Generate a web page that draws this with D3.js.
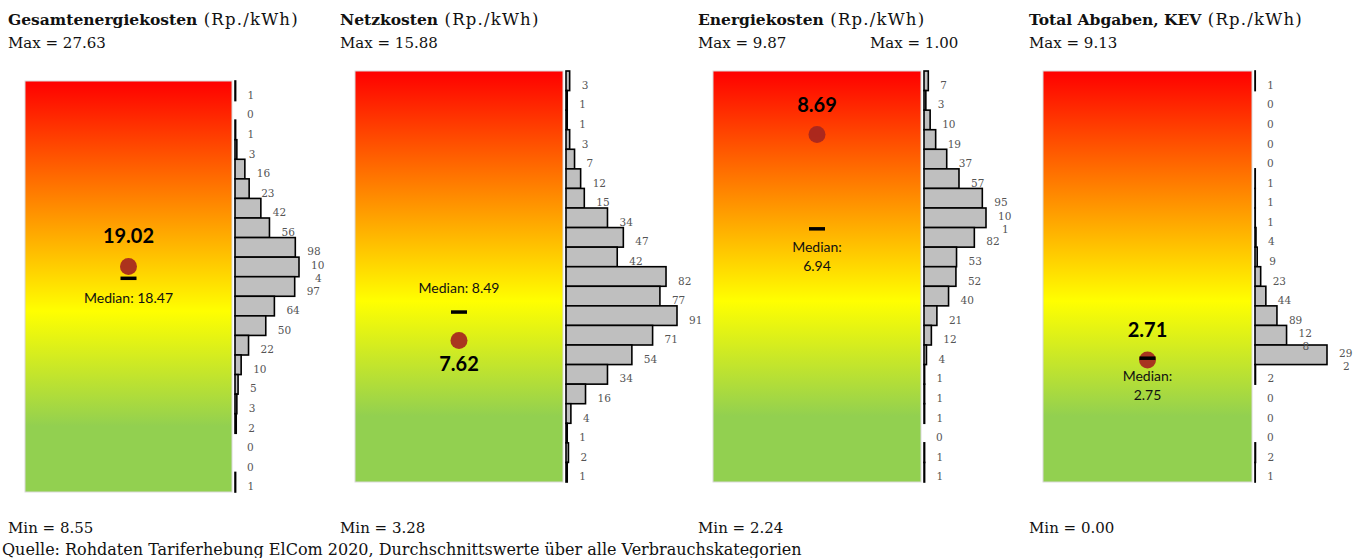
<!DOCTYPE html>
<html>
<head>
<meta charset="utf-8">
<script src="https://cdn.jsdelivr.net/npm/d3@7"></script>
<style>
  body { margin: 0; background: #fff; }
  svg { display: block; }
  .ttl { font-family: "DejaVu Serif", serif; font-size: 15px; fill: #111; }
  .src { font-family: "DejaVu Serif", serif; font-size: 16px; fill: #111; }
  .lbl { font-family: "DejaVu Serif", serif; font-size: 10.5px; fill: #555; }
  .val { font-family: Lato, "Open Sans", sans-serif; font-weight: bold; font-size: 20px; fill: #000; }
  .med { font-family: Lato, "Open Sans", sans-serif; font-size: 14px; fill: #111; }
</style>
</head>
<body>
<svg id="chart" width="1360" height="558"></svg>
<script>
// panel titles and ranges
var titles = ["Gesamtenergiekosten", "Netzkosten", "Energiekosten", "Total Abgaben, KEV"];
var unit = "(Rp./kWh)";
var maxVals = [27.63, 15.88, 9.87, 9.13];
var minVals = [8.55, 3.28, 2.24, 0.00];
var avgVals = [19.02, 7.62, 8.69, 2.71];
var medVals = [18.47, 8.49, 6.94, 2.75];

// histogram counts (top = high values)
var countsGesamt = [1, 0, 1, 3, 16, 23, 42, 56, 98, 104, 97, 64, 50, 22, 10, 5, 3, 2, 0, 0, 1];
var countsNetz = [3, 1, 1, 3, 7, 12, 15, 34, 47, 42, 82, 77, 91, 71, 54, 34, 16, 4, 1, 2, 1];
var countsEnergie = [7, 3, 10, 19, 37, 57, 95, 101, 82, 53, 52, 40, 21, 12, 4, 1, 1, 1, 0, 1, 1];
var countsAbgaben = [1, 0, 0, 0, 0, 1, 1, 1, 4, 9, 23, 44, 89, 128, 292, 2, 0, 0, 0, 2, 1];

var source = "Quelle: Rohdaten Tariferhebung ElCom 2020, Durchschnittswerte über alle Verbrauchskategorien";

var panels = [
  { x0: 25, x1: 232, top: 81, bottom: 492, tx: 8, barMax: 64, counts: countsGesamt, valPos: "above", medPos: "below1" },
  { x0: 355, x1: 563, top: 71, bottom: 482, tx: 340, barMax: 111, counts: countsNetz, valPos: "below", medPos: "above1" },
  { x0: 713, x1: 921, top: 71, bottom: 482, tx: 698, barMax: 62, counts: countsEnergie, valPos: "above", medPos: "below2" },
  { x0: 1043, x1: 1252, top: 71, bottom: 482, tx: 1029, barMax: 72, counts: countsAbgaben, valPos: "above", medPos: "below2" }
];

var svg = d3.select("#chart");
var defs = svg.append("defs");
var grad = defs.append("linearGradient").attr("id", "heat")
  .attr("x1", 0).attr("y1", 0).attr("x2", 0).attr("y2", 1);
[[0, "#ff0000"], [0.56, "#ffff00"], [0.84, "#92d050"], [1, "#92d050"]].forEach(function(s) {
  grad.append("stop").attr("offset", s[0]).attr("stop-color", s[1]);
});

var fmt = d3.format(".2f");

panels.forEach(function(p, i) {
  var g = svg.append("g");

  // title
  var t = g.append("text").attr("class", "ttl").attr("x", p.tx).attr("y", 25);
  t.append("tspan").attr("font-weight", "bold").attr("font-size", 15.5).text(titles[i]);
  t.append("tspan").attr("font-size", 16.5).attr("letter-spacing", 1.2).text(" " + unit);
  g.append("text").attr("class", "ttl").attr("x", p.tx).attr("y", 48).text("Max = " + fmt(maxVals[i]));
  g.append("text").attr("class", "ttl").attr("x", p.tx).attr("y", 533).text("Min = " + fmt(minVals[i]));

  // gradient box
  g.append("rect")
    .attr("x", p.x0).attr("y", p.top)
    .attr("width", p.x1 - p.x0).attr("height", p.bottom - p.top)
    .attr("fill", "url(#heat)")
    .attr("stroke", "#d9d9d9").attr("stroke-width", 1);

  var y = d3.scaleLinear().domain([minVals[i], maxVals[i]]).range([p.bottom, p.top]);
  var band = d3.scaleBand().domain(d3.range(p.counts.length)).range([p.top, p.bottom]);
  var xw = d3.scaleLinear().domain([0, d3.max(p.counts)]).range([0, p.barMax]);
  var ax = p.x1 + 3;

  // histogram bars
  g.selectAll("rect.bar").data(p.counts).join("rect")
    .attr("class", "bar")
    .attr("x", ax)
    .attr("y", function(d, k) { return band(k); })
    .attr("width", function(d) { return xw(d); })
    .attr("height", band.bandwidth())
    .attr("fill", "#bfbfbf")
    .attr("stroke", "#000")
    .attr("stroke-width", 1.6);

  // count labels (3-digit values wrap)
  var lab = g.selectAll("text.lbl").data(p.counts).join("text")
    .attr("class", "lbl")
    .attr("x", function(d) { return ax + xw(d) + 12; })
    .attr("y", function(d, k) { return band(k) + band.bandwidth() * 0.5 + 8; });
  lab.each(function(d) {
    var s = String(d), el = d3.select(this);
    if (s.length < 3) { el.text(s); return; }
    el.append("tspan").attr("dy", -6).text(s.slice(0, 2));
    el.append("tspan").attr("x", el.attr("x")).attr("dx", 4).attr("dy", 13).text(s.slice(2));
  });

  var cx = (p.x0 + p.x1) / 2;
  var cy = y(avgVals[i]);
  var my = y(medVals[i]);

  // mean marker
  g.append("circle").attr("cx", cx).attr("cy", cy).attr("r", 8.5)
    .attr("fill", "#a5261f").attr("fill-opacity", 0.92);
  g.append("text").attr("class", "val").attr("text-anchor", "middle").attr("x", cx)
    .attr("y", p.valPos === "above" ? cy - 23 : cy + 31)
    .text(fmt(avgVals[i]));

  // median marker
  g.append("line").attr("x1", cx - 8).attr("x2", cx + 8).attr("y1", my).attr("y2", my)
    .attr("stroke", "#000").attr("stroke-width", 3.5);
  var mt = g.append("text").attr("class", "med").attr("text-anchor", "middle").attr("x", cx);
  if (p.medPos === "below1") {
    mt.attr("y", my + 25).text("Median: " + fmt(medVals[i]));
  } else if (p.medPos === "above1") {
    mt.attr("y", my - 19).text("Median: " + fmt(medVals[i]));
  } else {
    mt.attr("y", my + 23);
    mt.append("tspan").attr("x", cx).text("Median:");
    mt.append("tspan").attr("x", cx).attr("dy", 19).text(fmt(medVals[i]));
  }
});

// stray label in the reference
svg.append("text").attr("class", "ttl").attr("x", 870).attr("y", 48).text("Max = " + fmt(1));

svg.append("text").attr("class", "src").attr("x", 2).attr("y", 555).text(source);
</script>
</body>
</html>
